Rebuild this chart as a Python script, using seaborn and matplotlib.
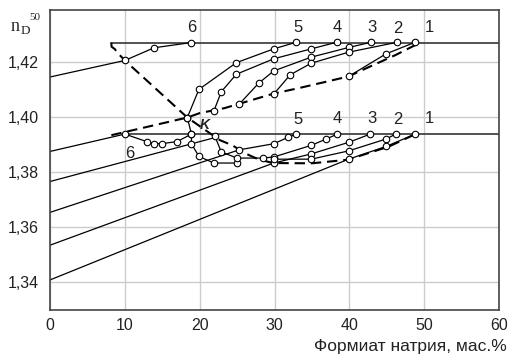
import matplotlib
matplotlib.use("Agg")
import matplotlib.pyplot as plt
from matplotlib.ticker import FuncFormatter, MultipleLocator
import pandas as pd
import seaborn as sns

sns.set_theme(style="white")
plt.rcParams['font.family'] = ['Liberation Sans', 'DejaVu Sans']

# ---- upper family (saturation level 1.427) ----
up_level = 1.427
up_line_x = [0, 10];  up_line_y = [1.4145, 1.4205]
up6_x = [10, 13.9, 18.9];                    up6_y = [1.4205, 1.4251, 1.4270]
up5_x = [18.35, 19.9, 24.9, 29.9, 32.9];     up5_y = [1.3998, 1.4100, 1.4197, 1.4247, 1.4271]
up4_x = [21.9, 22.9, 24.9, 29.9, 34.9, 38.3]; up4_y = [1.4022, 1.4092, 1.4155, 1.4211, 1.4247, 1.4271]
up3_x = [25.3, 27.9, 29.9, 34.9, 39.9, 42.9]; up3_y = [1.4047, 1.4123, 1.4167, 1.4217, 1.4252, 1.4271]
up2_x = [29.9, 32.1, 34.9, 39.9, 46.4];      up2_y = [1.4083, 1.4153, 1.4195, 1.4235, 1.4271]
up1_x = [39.9, 44.9, 48.8];                  up1_y = [1.4147, 1.4229, 1.4271]

# ---- lower family (saturation level 1.3938) ----
low_level = 1.3938
la_x = [0, 10];   la_y = [1.3875, 1.3938]
lb_x = [0, 22];   lb_y = [1.3766, 1.3925]
lc_x = [0, 25.3]; lc_y = [1.3654, 1.3881]
ld_x = [0, 29.9]; ld_y = [1.3535, 1.3833]
le_x = [0, 39.9]; le_y = [1.3409, 1.3847]
lo6_x = [10, 12.9, 13.9, 14.9, 17.0, 18.9];  lo6_y = [1.3938, 1.3911, 1.3903, 1.3903, 1.3911, 1.3938]
arc_x = [18.35, 18.9, 18.9, 19.9, 21.9, 25.0]; arc_y = [1.3998, 1.3938, 1.3903, 1.3857, 1.3833, 1.3833]
lo5_x = [25.3, 29.9, 31.8, 32.9];            lo5_y = [1.3881, 1.3903, 1.3926, 1.3938]
lo4_x = [22.0, 22.9, 25.0, 28.4, 29.9, 34.9, 36.9, 38.4]
lo4_y = [1.3932, 1.3873, 1.3851, 1.3851, 1.3855, 1.3897, 1.3920, 1.3938]
lo3_x = [29.9, 34.9, 39.9, 42.8];            lo3_y = [1.3833, 1.3866, 1.3908, 1.3938]
lo2_x = [29.9, 34.9, 39.9, 44.9, 46.2];      lo2_y = [1.3847, 1.3847, 1.3877, 1.3920, 1.3938]
lo1_x = [39.9, 44.9, 48.8];                  lo1_y = [1.3847, 1.3893, 1.3938]

# ---- boundary curves (dashed) ----
dashA_x = [8.2, 8.22, 8.67, 8.98, 10, 18.35, 22.7, 24.4, 26.0, 27.8, 29.8, 35.0, 39.8, 45.3, 49.0]
dashA_y = [1.4270, 1.4255, 1.4246, 1.4234, 1.4205, 1.3998, 1.3916, 1.3897, 1.3869, 1.3847, 1.3833,
           1.3832, 1.3845, 1.3893, 1.3940]
dashB_x = [8.2, 18.35, 20.0, 23.3, 25.3, 29.9, 33.3, 39.9, 41.3, 46.2, 48.9, 49.5]
dashB_y = [1.3934, 1.3998, 1.4014, 1.4032, 1.4048, 1.4085, 1.4105, 1.4147, 1.4165, 1.4225, 1.4262, 1.4270]

# curve labels
lab_text = ["1", "2", "3", "4", "5", "6"]
lab_x = [50.7, 46.5, 43.0, 38.4, 33.1, 18.9]
lab_up_y = [1.4298, 1.4294, 1.4298, 1.4298, 1.4296, 1.4298]
lab_lo_y = [1.3966, 1.3963, 1.3966, 1.3966, 1.3963]
lab6_lo = (10.6, 1.3893)
k_pos = (20.7, 1.3972)

solid = [(up_line_x, up_line_y, False), (up6_x, up6_y, True), (up5_x, up5_y, True),
         (up4_x, up4_y, True), (up3_x, up3_y, True), (up2_x, up2_y, True), (up1_x, up1_y, True),
         (la_x, la_y, False), (lb_x, lb_y, False), (lc_x, lc_y, False), (ld_x, ld_y, False),
         (le_x, le_y, False),
         (lo6_x, lo6_y, True), (arc_x, arc_y, True), (lo5_x, lo5_y, True), (lo4_x, lo4_y, True),
         (lo3_x, lo3_y, True), (lo2_x, lo2_y, True), (lo1_x, lo1_y, True)]

frames, pts = [], []
for i, (xs, ys, mk) in enumerate(solid):
    frames.append(pd.DataFrame({'x': xs, 'y': ys, 'curve': i}))
    if mk:
        pts.append(pd.DataFrame({'x': xs, 'y': ys}))
lines_df = pd.concat(frames, ignore_index=True)
pts_df = pd.concat(pts, ignore_index=True)
dash_df = pd.concat([pd.DataFrame({'x': dashA_x, 'y': dashA_y, 'curve': 'A'}),
                     pd.DataFrame({'x': dashB_x, 'y': dashB_y, 'curve': 'B'})], ignore_index=True)
level_df = pd.DataFrame({'x': [8.2, 60, 10, 60], 'y': [up_level] * 2 + [low_level] * 2,
                         'curve': ['u', 'u', 'l', 'l']})

fig = plt.figure(figsize=(5.09, 3.60), dpi=100)
ax = fig.add_axes([50 / 509, 1 - 310 / 360, 449 / 509, 300 / 360])

ax.grid(True, color='#cccccc', lw=1.0)
ax.set_axisbelow(True)

sns.lineplot(data=level_df, x='x', y='y', units='curve', estimator=None, sort=False,
             color='#444444', lw=1.3, ax=ax)
sns.lineplot(data=dash_df, x='x', y='y', units='curve', estimator=None, sort=False,
             color='black', lw=1.5, dashes=False, ax=ax)
for ln in ax.lines[-2:]:
    ln.set_linestyle((0, (5.0, 2.8)))
sns.lineplot(data=lines_df, x='x', y='y', units='curve', estimator=None, sort=False,
             color='black', lw=0.9, ax=ax)
sns.scatterplot(data=pts_df, x='x', y='y', marker='o', s=22, facecolor='white',
                edgecolor='black', linewidth=0.8, zorder=5, ax=ax)

for t, x, y in zip(lab_text, lab_x, lab_up_y):
    ax.text(x, y, t, ha='center', va='bottom', fontsize=12, color='#222222')
for t, x, y in zip(lab_text[:5], lab_x[:5], lab_lo_y):
    ax.text(x, y, t, ha='center', va='bottom', fontsize=12, color='#222222')
ax.text(lab6_lo[0], lab6_lo[1], "6", ha='center', va='top', fontsize=12, color='#222222')
ax.text(k_pos[0], k_pos[1], "K", ha='center', va='center', fontsize=10, style='italic',
        fontweight='bold', color='#222222')

ax.set_xlim(0, 60)
ax.set_ylim(1.33, 1.4388)
ax.xaxis.set_major_locator(MultipleLocator(10))
ax.yaxis.set_major_locator(MultipleLocator(0.02))
ax.yaxis.set_major_formatter(FuncFormatter(lambda v, p: f"{v:.2f}".replace('.', ',')))
ax.xaxis.set_major_formatter(FuncFormatter(lambda v, p: f"{v:.0f}"))
ax.tick_params(axis='y', labelsize=11.5, length=0, pad=8, colors='#222222')
ax.tick_params(axis='x', labelsize=11.5, length=0, pad=6, colors='#222222')
ax.set_xlabel("")
ax.set_ylabel("")
for s in ax.spines.values():
    s.set_color('#444444')
    s.set_linewidth(1.2)
    s.set_visible(True)

fig.text(507 / 509, 1 - 351 / 360, "Формиат натрия, мас.%", ha='right', va='baseline',
         fontsize=12.5, color='#222222')
fig.text(11 / 509, 1 - 31 / 360, "n", fontsize=13, family='Liberation Serif', va='baseline')
fig.text(21 / 509, 1 - 34 / 360, "D", fontsize=9.5, family='Liberation Serif', va='baseline')
fig.text(29 / 509, 1 - 20 / 360, "50", fontsize=8, family='Liberation Serif', va='baseline')

fig.savefig("out.png", dpi=100)
